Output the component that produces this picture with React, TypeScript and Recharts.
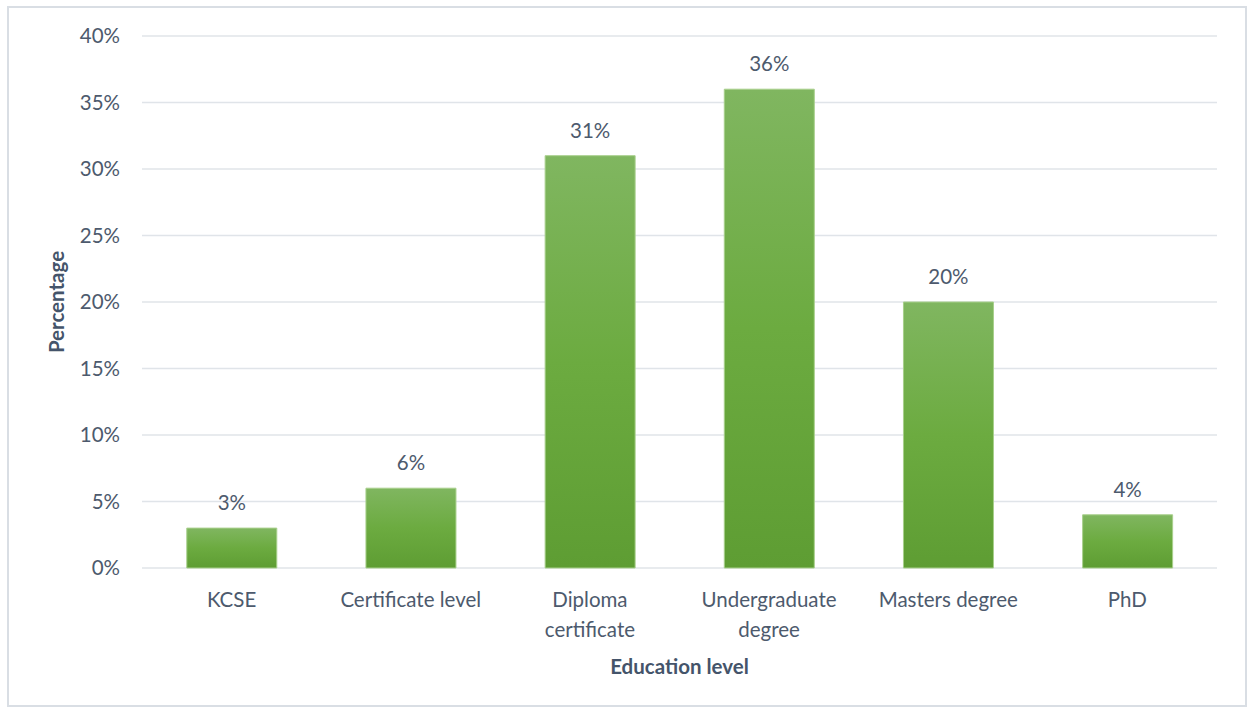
import React from 'react';
import { BarChart, Bar, XAxis, YAxis, CartesianGrid, LabelList, Label } from 'recharts';

const categories = ['KCSE', 'Certificate level', 'Diploma\ncertificate', 'Undergraduate\ndegree', 'Masters degree', 'PhD'];
const percentages = [3, 6, 31, 36, 20, 4];
const yTicks = [0, 5, 10, 15, 20, 25, 30, 35, 40];

const data = categories.map((name, i) => ({ name, value: percentages[i] }));

const textColor = '#4d5a6d';
const fontFamily = 'Lato, "Open Sans", sans-serif';
const fontSize = 20.5;

const CategoryTick = (props: any) => {
    const { x, y, payload } = props;
    const lines = String(payload.value).split('\n');
    return (
        <text x={x} y={y + 31} textAnchor="middle" fill={textColor} fontSize={fontSize} fontFamily={fontFamily}>
            {lines.map((line, i) => (
                <tspan key={i} x={x} dy={i === 0 ? 0 : 30}>{line}</tspan>
            ))}
        </text>
    );
};

const App: React.FC = () => {
    return (
        <div style={{ position: 'absolute', left: 0, top: 0, width: 1251, height: 710, background: '#ffffff' }}>
            <div
                style={{
                    position: 'absolute',
                    left: 7,
                    top: 6,
                    width: 1236,
                    height: 697,
                    border: '2px solid #d9dee4',
                }}
            />
            <div style={{ position: 'absolute', left: 0, top: 0 }}>
                <BarChart
                    width={1251}
                    height={710}
                    data={data}
                    margin={{ top: 36, right: 34, bottom: 0, left: 0 }}
                    barCategoryGap="25%"
                >
                    <defs>
                        <linearGradient id="barGreen" x1="0" y1="0" x2="0" y2="1">
                            <stop offset="0%" stopColor="#80b660" />
                            <stop offset="50%" stopColor="#6cab40" />
                            <stop offset="100%" stopColor="#5e9d33" />
                        </linearGradient>
                    </defs>
                    <CartesianGrid vertical={false} stroke="#e0e4e9" strokeWidth={1.5} />
                    <XAxis
                        dataKey="name"
                        height={142}
                        axisLine={false}
                        tickLine={false}
                        interval={0}
                        tick={<CategoryTick />}
                    >
                        <Label
                            content={(p: any) => {
                                const vb = p.viewBox;
                                return (
                                    <text
                                        x={vb.x + vb.width / 2}
                                        y={vb.y + 106}
                                        textAnchor="middle"
                                        fill="#44546a"
                                        fontSize={fontSize}
                                        fontWeight="bold"
                                        fontFamily={fontFamily}
                                    >
                                        Education level
                                    </text>
                                );
                            }}
                        />
                    </XAxis>
                    <YAxis
                        width={142}
                        domain={[0, 40]}
                        ticks={yTicks}
                        axisLine={false}
                        tickLine={false}
                        tickMargin={16}
                        tickFormatter={(v: number) => `${v}%`}
                        tick={{ fill: textColor, fontSize, fontFamily }}
                    >
                        <Label
                            content={(p: any) => {
                                const vb = p.viewBox;
                                const cy = vb.y + vb.height / 2;
                                return (
                                    <text
                                        x={64}
                                        y={cy}
                                        transform={`rotate(-90, 64, ${cy})`}
                                        textAnchor="middle"
                                        fill="#44546a"
                                        fontSize={fontSize}
                                        fontWeight="bold"
                                        fontFamily={fontFamily}
                                    >
                                        Percentage
                                    </text>
                                );
                            }}
                        />
                    </YAxis>
                    <Bar dataKey="value" fill="url(#barGreen)" stroke="#a8cf8c" strokeWidth={1} isAnimationActive={false}>
                        <LabelList
                            dataKey="value"
                            position="top"
                            offset={18}
                            formatter={(v: any) => `${v}%`}
                            fill={textColor}
                            fontSize={fontSize}
                            fontFamily={fontFamily}
                        />
                    </Bar>
                </BarChart>
            </div>
        </div>
    );
};

export default App;
